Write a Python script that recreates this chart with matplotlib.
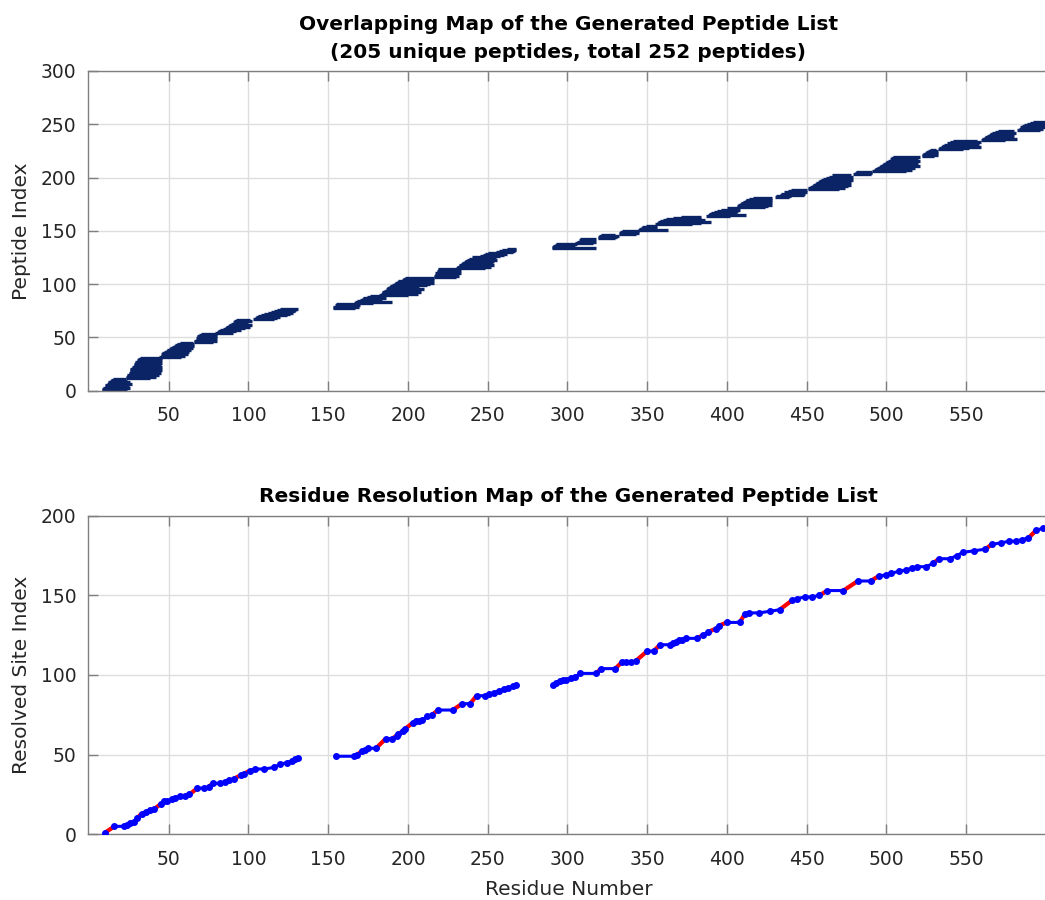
import numpy as np
import matplotlib
matplotlib.use("Agg")
import matplotlib.pyplot as plt

plt.rcParams['font.family'] = ['DejaVu Sans']

# ---------------- peptide list (ordered by peptide index) ----------------
pep_start = [
    8, 8, 9, 10, 10, 11, 12, 12, 13, 14, 15,
    23, 23, 24, 24, 25, 25, 26, 26, 26, 27, 27, 28, 28, 28, 29, 29, 30, 30, 31, 32,
    44, 45, 45, 46, 47, 48, 49, 50, 51, 52, 53, 54, 55, 57,
    66, 66, 67, 67, 68, 68, 69, 70,
    79, 80, 81, 82, 84,
    85, 86, 87, 88, 89, 90, 91, 92,
    103, 104, 105, 106,
    108, 110, 112, 114, 116, 118, 120,
    153, 153, 154, 155, 166, 167, 168, 170, 171, 172, 174, 176,
    182, 183, 184, 184, 185, 186, 187, 188, 189,
    190, 191, 192, 193, 194, 196, 197, 198,
    216, 216, 217, 217, 218, 218, 219, 219,
    230, 231, 232, 232, 233, 234, 235, 236, 237, 238, 240,
    245, 247, 248, 250, 255, 257, 259, 262,
    290, 290, 291, 292, 293, 305, 306, 307, 308, 319, 319, 320, 321,
    332, 332, 333, 334, 344, 345, 346, 347, 349,
    355, 356, 357, 358, 360, 362, 366, 371,
    387, 388, 389, 390, 392, 394, 396, 400,
    406, 406, 407, 408, 409, 410, 411, 412, 414, 416,
    430, 431, 433, 434, 436, 438, 440,
    451, 451, 452, 453, 454, 455, 456, 457, 458, 459, 460, 462, 464, 466,
    479, 480, 481,
    491, 492, 493, 494, 495, 496, 497, 498, 499, 500, 501, 502, 503, 504,
    522, 522, 523, 524, 525, 526, 527,
    532, 533, 534, 535, 536, 538, 540, 542,
    559, 560, 561, 562, 563, 564, 565, 566, 568, 570,
    582, 583, 584, 585, 586, 588, 590, 592,
]
pep_end = [
    22, 24, 26, 23, 25, 27, 22, 26, 24, 22, 23,
    38, 42, 40, 44, 41, 45, 43, 46, 42, 44, 46, 40, 45, 43, 46, 44, 45, 46, 42, 46,
    58, 60, 62, 59, 63, 61, 64, 62, 65, 63, 66, 64, 66, 65,
    78, 80, 79, 80, 77, 80, 79, 80,
    90, 88, 92, 95, 94,
    98, 101, 99, 102, 100, 97, 102, 101,
    116, 118, 120, 117,
    124, 126, 128, 122, 129, 130, 131,
    167, 169, 170, 168, 178, 190, 180, 182, 184, 186, 183, 185,
    200, 206, 202, 208, 204, 210, 203, 207, 205,
    212, 214, 216, 213, 215, 216, 214, 216,
    230, 232, 231, 233, 229, 232, 233, 231,
    248, 252, 250, 254, 249, 253, 252, 254, 256, 251, 255,
    258, 260, 262, 261, 266, 267, 268, 268,
    318, 302, 304, 305, 306, 316, 318, 317, 318, 330, 331, 332, 330,
    343, 345, 344, 345, 363, 355, 356, 355, 356,
    378, 384, 390, 382, 386, 384, 383, 384,
    402, 412, 404, 406, 405, 407, 408, 407,
    424, 426, 428, 425, 427, 428, 426, 428, 427, 428,
    439, 440, 448, 449, 450, 447, 450,
    470, 474, 472, 476, 478, 475, 477, 478, 476, 479, 478, 477, 479, 478,
    490, 491, 491,
    512, 516, 514, 518, 515, 521, 517, 520, 519, 516, 521, 518, 520, 521,
    530, 532, 531, 532, 530, 532, 531,
    548, 552, 559, 555, 558, 556, 559, 557,
    574, 582, 576, 578, 580, 575, 579, 581, 577, 580,
    596, 598, 600, 597, 601, 599, 602, 600,
]

# ---------------- resolved sites (three covered stretches) ----------------
run1_x = [10, 16, 22, 24, 26, 28, 30, 33, 36, 38, 41, 45, 47, 49, 52, 54, 57, 60, 63, 68,
          72, 75, 78, 82, 85, 88, 91, 95, 97, 101, 104, 110, 116, 120, 124, 127, 129, 131]
run1_y = [1, 5, 5, 6, 7, 8, 10, 13, 14, 15, 16, 19, 21, 21, 22, 23, 24, 24, 25, 29,
          29, 30, 32, 32, 33, 34, 35, 37, 38, 40, 41, 41, 42, 44, 45, 46, 47, 48]
run1_single = [10, 30, 41, 63, 75, 91, 97, 127]

run2_x = [155, 166, 168, 171, 173, 175, 180, 186, 190, 193, 194, 197, 198, 203, 205, 207,
          209, 212, 215, 219, 228, 234, 239, 243, 248, 251, 254, 257, 260, 263, 266, 268]
run2_y = [49, 49, 50, 52, 53, 54, 54, 60, 60, 62, 63, 65, 66, 70, 71, 71,
          72, 74, 75, 78, 78, 82, 82, 87, 87, 88, 89, 90, 91, 92, 93, 94]
run2_single = [168, 180, 190, 194, 198, 215, 228, 239]

run3_x = [291, 293, 295, 297, 299, 302, 305, 308, 318, 321, 330, 334, 337, 340, 343, 350,
          354, 358, 364, 366, 368, 370, 372, 374, 381, 385, 388, 393, 395, 400, 408, 411,
          414, 420, 427, 433, 441, 444, 449, 453, 458, 463, 473, 482, 490, 495, 500, 503,
          508, 512, 516, 519, 525, 529, 533, 540, 544, 548, 555, 562, 566, 572, 577, 581,
          585, 589, 594, 598, 601]
run3_y = [94, 95, 96, 97, 97, 98, 99, 101, 101, 104, 104, 108, 108, 108, 109, 115,
          115, 119, 119, 120, 121, 122, 122, 123, 123, 125, 127, 129, 131, 133, 133, 138,
          139, 139, 140, 141, 147, 148, 149, 149, 150, 153, 153, 159, 159, 162, 163, 164,
          165, 166, 167, 168, 168, 170, 173, 173, 175, 177, 178, 179, 182, 183, 184, 184,
          185, 186, 191, 192, 193]
run3_single = [318, 330, 343, 354, 381, 388, 395, 408, 433, 458, 473, 490, 529, 562, 589]

x_ticks = [50, 100, 150, 200, 250, 300, 350, 400, 450, 500, 550]
x_range = (-0.8, 602)

# ---------------- styling ----------------
TXT = '#262626'
SPINE = '#7f7f7f'
GRID = '#dedede'
NAVY = (0.04, 0.14, 0.40)
TICK_FS = 13.5
LABEL_FS = 14.5
TITLE_FS = 14.5

fig = plt.figure(figsize=(10.45, 9.0), dpi=100)
left = 87.7 / 1045
width = 1.0 - left + 0.004
ax1 = fig.add_axes([left, (900 - 390.7) / 900, width, (390.7 - 71) / 900])
ax2 = fig.add_axes([left, (900 - 834.3) / 900, width, (834.3 - 515.7) / 900])


def style(ax, yticks):
    ax.set_xlim(*x_range)
    ax.set_xticks(x_ticks)
    ax.set_yticks(yticks)
    ax.set_ylim(yticks[0], yticks[-1])
    ax.grid(True, color=GRID, linewidth=1.0)
    ax.set_axisbelow(True)
    for side in ('left', 'bottom', 'top'):
        ax.spines[side].set_color(SPINE)
        ax.spines[side].set_linewidth(1.0)
    ax.spines['right'].set_visible(False)
    ax.tick_params(direction='in', length=7, width=1.0, color=SPINE,
                   labelsize=TICK_FS, labelcolor=TXT, top=True, right=False)
    ax.tick_params(axis='x', pad=11)
    ax.tick_params(axis='y', pad=8)


# top: overlapping peptide map
idx = np.arange(1, len(pep_start) + 1)
ax1.hlines(idx, pep_start, pep_end, color=NAVY, linewidth=2.4)
style(ax1, [0, 50, 100, 150, 200, 250, 300])
ax1.set_ylabel('Peptide Index', fontsize=LABEL_FS, color=TXT, labelpad=7)
ax1.set_title('Overlapping Map of the Generated Peptide List\n'
              '(205 unique peptides, total 252 peptides)',
              fontsize=TITLE_FS, fontweight='bold', color='black', pad=9,
              linespacing=1.6)

# bottom: residue resolution map
for xs, ys, singles in ((run1_x, run1_y, run1_single),
                        (run2_x, run2_y, run2_single),
                        (run3_x, run3_y, run3_single)):
    ax2.plot(xs, ys, '-', color='#0000ff', linewidth=2.2, zorder=2)
    for r in singles:
        i = xs.index(r)
        ax2.plot(xs[i:i + 2], ys[i:i + 2], '-', color='#ff0000', linewidth=3.0,
                 zorder=3, solid_capstyle='butt')
    ax2.plot(xs, ys, '.', color='#0000ff', markersize=8, zorder=4)

style(ax2, [0, 50, 100, 150, 200])
ax2.set_ylabel('Resolved Site Index', fontsize=LABEL_FS, color=TXT, labelpad=7)
ax2.set_xlabel('Residue Number', fontsize=LABEL_FS, color=TXT, labelpad=8)
ax2.set_title('Residue Resolution Map of the Generated Peptide List',
              fontsize=TITLE_FS, fontweight='bold', color='black', pad=10)

fig.savefig('out.png', dpi=100)
